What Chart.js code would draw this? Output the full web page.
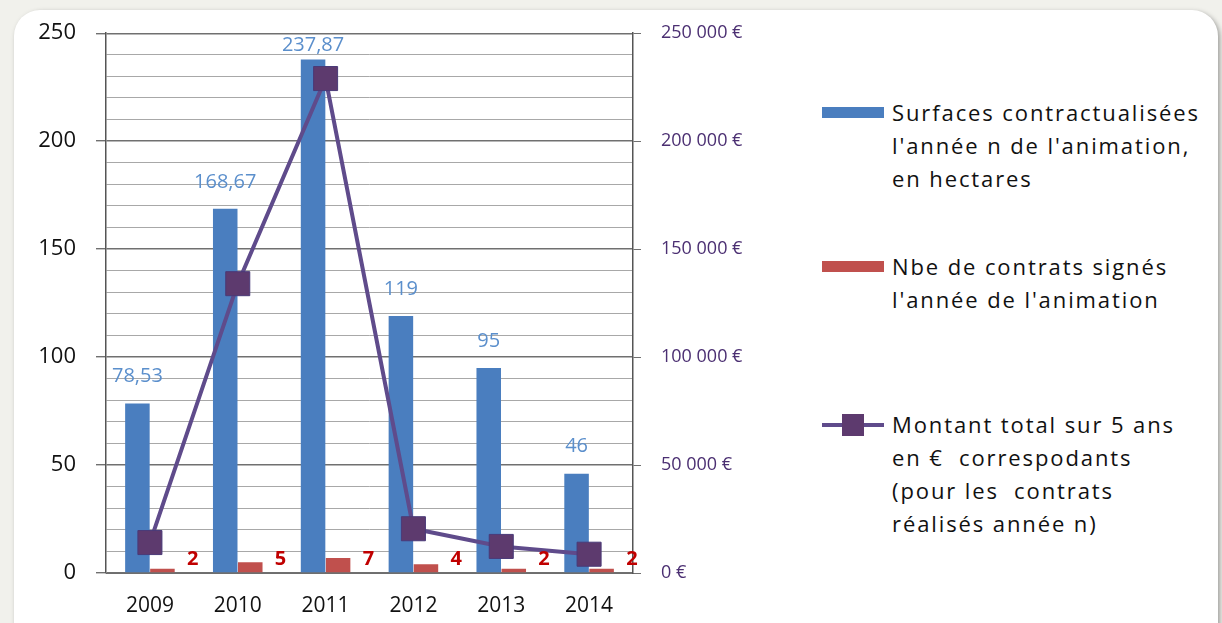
<!DOCTYPE html>
<html>
<head>
<meta charset="utf-8">
<script src="https://cdn.jsdelivr.net/npm/chart.js@4.4.0/dist/chart.umd.min.js"></script>
<style>
  html, body { margin: 0; padding: 0; background: #f1f1ec; }
  body { width: 1222px; height: 623px; position: relative; overflow: hidden; font-family: "Open Sans", sans-serif; }
  .panel { position: absolute; left: 14px; top: 10px; width: 1204px; height: 640px; background: #fff;
           border-radius: 26px; box-shadow: 2px 2px 5px rgba(0,0,0,0.35); }
  .chart-box { position: absolute; left: 0; top: 0; width: 800px; height: 623px; }
  .legend { position: absolute; left: 0; top: 0; }
  .item { position: absolute; left: 822px; }
  .swatch { position: absolute; left: 0; width: 62px; height: 11px; }
  .line-sw { position: absolute; left: 0; width: 62px; height: 4px; }
  .line-sw .mk { position: absolute; left: 20px; top: -9px; width: 22px; height: 22px; }
  .txt { position: absolute; left: 70px; font-size: 22px; line-height: 33px; color: #111; white-space: pre; letter-spacing: 1.9px; }
</style>
</head>
<body>
<div class="panel"></div>
<div class="chart-box"><canvas id="mainChart" width="800" height="623"></canvas></div>
<div class="legend" id="legend"></div>
<script>
// chart values
const years = ['2009', '2010', '2011', '2012', '2013', '2014'];
const surfaces = [78.53, 168.67, 237.87, 119, 95, 46];
const surfaceLabels = ['78,53', '168,67', '237,87', '119', '95', '46'];
const contrats = [2, 5, 7, 4, 2, 2];
const montants = [14100, 134000, 229000, 20500, 12300, 8700];

const seriesNames = [
    ['Surfaces contractualisées', "l'année n de l'animation,", 'en hectares'],
    ['Nbe de contrats signés', "l'année de l'animation"],
    ['Montant total sur 5 ans', 'en €  correspodants', '(pour les  contrats', 'réalisés année n)'],
];

const blue = '#4a7ebf';
const red = '#c0504d';
const purple = '#5f4b8b';
const markerFill = '#5d3a6e';

function euro(v) {
    return String(v).replace(/\B(?=(\d{3})+(?!\d))/g, ' ') + ' €';
}

// value labels drawn next to the bars
const valueLabels = {
    id: 'valueLabels',
    afterDatasetsDraw(chart) {
        const ctx = chart.ctx;
        const area = chart.chartArea;
        ctx.save();
        ctx.textAlign = 'center';
        ctx.textBaseline = 'middle';

        ctx.font = '20px "Open Sans", sans-serif';
        ctx.fillStyle = '#5b8fcc';
        chart.getDatasetMeta(0).data.forEach((bar, i) => {
            let y = bar.y - 27;
            if (y < area.top + 12) y = area.top + 12;
            ctx.fillText(surfaceLabels[i], bar.x, y);
        });

        ctx.font = 'bold 20px "Open Sans", sans-serif';
        ctx.fillStyle = '#c00000';
        chart.getDatasetMeta(1).data.forEach((bar, i) => {
            ctx.fillText(String(contrats[i]), bar.x + bar.width / 2 + 18, area.bottom - 14);
        });
        ctx.restore();
    }
};

const canvas = document.getElementById('mainChart');
const ctx = canvas.getContext('2d');

new Chart(ctx, {
    type: 'bar',
    data: {
        labels: years,
        datasets: [
            {
                label: seriesNames[0].join(' '),
                data: surfaces,
                backgroundColor: blue,
                yAxisID: 'y',
                categoryPercentage: 0.57,
                barPercentage: 0.98,
                order: 2,
            },
            {
                label: seriesNames[1].join(' '),
                data: contrats,
                backgroundColor: red,
                yAxisID: 'y',
                categoryPercentage: 0.57,
                barPercentage: 0.98,
                order: 2,
            },
            {
                type: 'line',
                label: seriesNames[2].join(' '),
                data: montants,
                yAxisID: 'y1',
                borderColor: purple,
                borderWidth: 4,
                pointStyle: 'rect',
                pointRadius: 17,
                pointBackgroundColor: markerFill,
                pointBorderColor: '#4a3a78',
                pointBorderWidth: 1,
                tension: 0,
                order: 1,
            },
        ],
    },
    options: {
        responsive: false,
        animation: false,
        layout: { padding: { top: 25, right: 0, bottom: 0, left: 0 } },
        plugins: {
            legend: { display: false },
            tooltip: { enabled: false },
        },
        scales: {
            x: {
                grid: { display: false, drawTicks: false },
                border: { display: true, color: '#6e6e6e' },
                ticks: {
                    color: '#111',
                    padding: 20,
                    font: { family: '"Open Sans", sans-serif', size: 21 },
                },
                afterFit: (scale) => { scale.height = 50; },
            },
            y: {
                position: 'left',
                min: 0,
                max: 250,
                ticks: {
                    stepSize: 10,
                    autoSkip: false,
                    color: '#111',
                    padding: 20,
                    font: { family: '"Open Sans", sans-serif', size: 22 },
                    callback: (v) => (v % 50 === 0 ? String(v) : ''),
                },
                grid: {
                    color: (c) => (c.tick && c.tick.value % 50 === 0 ? '#707070' : '#a8a8a8'),
                    lineWidth: (c) => (c.tick && c.tick.value % 50 === 0 ? 1.4 : 1),
                    tickColor: (c) => (c.tick && c.tick.value % 50 === 0 ? '#707070' : 'rgba(0,0,0,0)'),
                    tickLength: 10,
                },
                border: { display: true, color: '#555', width: 1.5 },
                afterFit: (scale) => { scale.width = 106; },
            },
            y1: {
                position: 'right',
                min: 0,
                max: 250000,
                ticks: {
                    stepSize: 50000,
                    color: '#4b2f72',
                    padding: 20,
                    font: { family: '"Open Sans", sans-serif', size: 18 },
                    callback: (v) => euro(v),
                },
                grid: { drawOnChartArea: false, color: '#707070', tickLength: 8 },
                border: { display: true, color: '#555', width: 1.5 },
                afterFit: (scale) => { scale.width = 167; },
            },
        },
    },
    plugins: [valueLabels],
});

// legend on the right, built from the series names
const legendTops = [113, 267, 425];
const legend = document.getElementById('legend');
seriesNames.forEach((lines, i) => {
    const item = document.createElement('div');
    item.className = 'item';
    item.style.top = legendTops[i] + 'px';
    let mark;
    if (i < 2) {
        mark = '<div class="swatch" style="top:-6px;background:' + (i === 0 ? blue : red) + '"></div>';
    } else {
        mark = '<div class="line-sw" style="top:-2px;background:' + purple + '">' +
               '<div class="mk" style="background:' + markerFill + '"></div></div>';
    }
    const txt = document.createElement('div');
    txt.className = 'txt';
    txt.style.top = '-17px';
    txt.textContent = lines.join('\n');
    item.innerHTML = mark;
    item.appendChild(txt);
    legend.appendChild(item);
});
</script>
</body>
</html>
